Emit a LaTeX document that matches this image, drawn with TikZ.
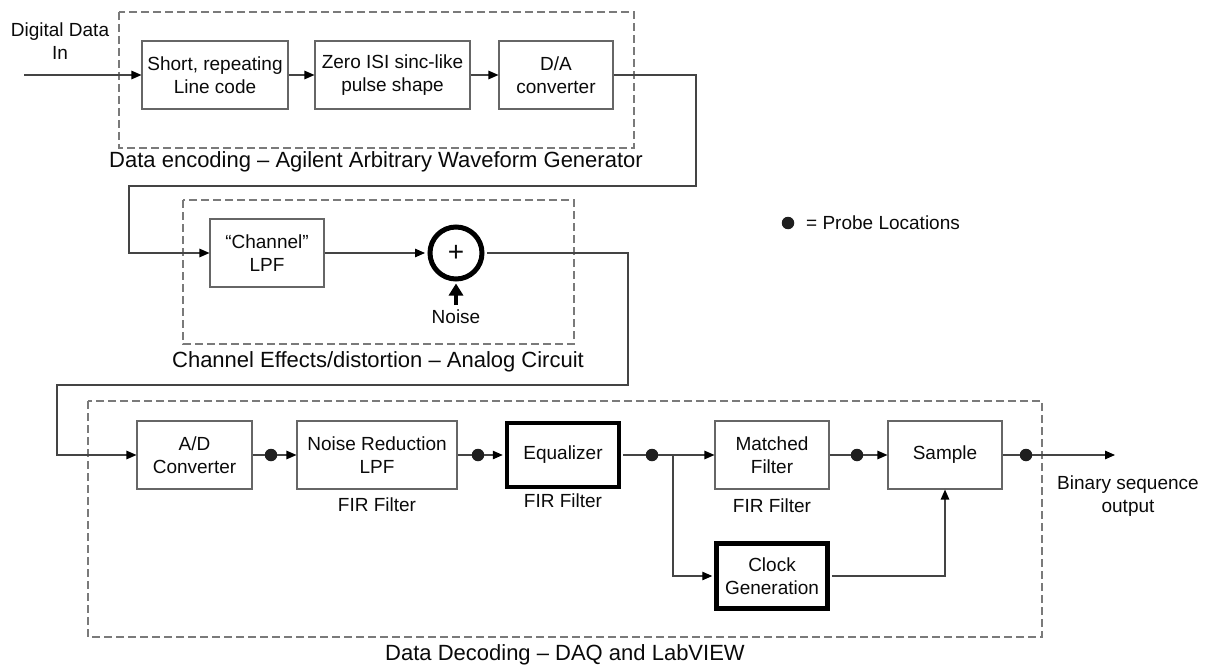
\documentclass[tikz,border=0pt]{standalone}
\usepackage{fontspec}
\setmainfont{Liberation Sans}
\usetikzlibrary{arrows.meta,calc}
\definecolor{linec}{HTML}{444444}
\definecolor{boxc}{HTML}{666666}
\definecolor{dashc}{HTML}{7A7A7A}
\definecolor{txtc}{HTML}{0A0A0A}
\newcommand\boxfont{\fontsize{19}{23}\selectfont}
\newcommand\labfont{\fontsize{22}{26}\selectfont}
\begin{document}
\begin{tikzpicture}[x=1pt,y=-1pt,
  every node/.style={text=txtc},
  blk/.style={draw=boxc, line width=1.1pt, minimum width=#1, minimum height=68pt, inner sep=0pt, align=center, font=\boxfont},
  thickblk/.style={draw=black, line width=4.5pt, minimum width=#1, minimum height=64pt, inner sep=0pt, align=center, font=\boxfont},
  txt/.style={inner sep=0pt, align=center, font=\boxfont},
  lab/.style={inner sep=0pt, align=center, font=\labfont},
  grp/.style={draw=dashc, line width=1.1pt, dash pattern=on 8pt off 4pt},
  ln/.style={draw=linec, line width=1.2pt},
  arr/.style={ln, -{Triangle[length=10pt,width=8.5pt,fill=black,color=black]}},
  probe/.style={circle, fill=black!88, minimum size=12.5pt, inner sep=0pt}]
\useasboundingbox (0,0) rectangle (1207,666);

% group frames
\draw[grp] (119,12) rectangle (634,148);
\draw[grp] (183,200) rectangle (574,344);
\draw[grp] (88,401) rectangle (1042,637);
\node[lab] (labA) at (376,162) {Data encoding – Agilent Arbitrary Waveform Generator};
\node[lab] (labB) at (378,362) {Channel Effects/distortion – Analog Circuit};
\node[lab] (labC) at (565,655) {Data Decoding – DAQ and LabVIEW};

% top row
\node[txt] (din) at (60,41) {Digital Data\\In};
\coordinate (inS) at (24,75);
\node[blk=146pt] (b1) at (215,75) {Short, repeating\\Line code};
\node[blk=155pt] (b2) at (392.5,75) {Zero ISI sinc-like\\pulse shape};
\node[blk=114pt] (b3) at (556,75) {D/A\\converter};
\draw[arr] (inS) -- (b1.west);
\draw[arr] (b1) -- (b2);
\draw[arr] (b2) -- (b3);

% channel
\node[blk=114pt] (lpf) at (267,253) {“Channel”\\LPF};
\node[circle, draw=black, line width=5pt, minimum size=52pt, inner sep=0pt, font=\fontsize{28}{30}\selectfont] (sum) at (456,253) {+};
\node[txt] (noise) at (456,317) {Noise};
\coordinate (nS) at (456,305);
\draw[arr] (b3.east) -- (696,75) -- (696,186) -- (129,186) -- (129,253) -- (lpf.west);
\draw[arr, shorten >=2.5pt] (lpf) -- (sum);
\draw[draw=black, line width=4pt, -{Triangle[length=12pt,width=14pt]}, shorten >=2pt] (nS) -- (sum.south);

% legend
\node[probe] (leg) at (788,223) {};
\node[txt, anchor=west] (legt) at (806,223) {= Probe Locations};

% decoding row
\node[blk=115pt] (ad) at (194.5,455) {A/D\\Converter};
\node[blk=160pt] (nr) at (377,455) {Noise Reduction\\LPF};
\node[thickblk=112pt] (eq) at (563,455) {Equalizer};
\node[blk=114pt] (mf) at (772,455) {Matched\\Filter};
\node[blk=114pt] (sa) at (945,455) {Sample};
\node[thickblk=111pt, minimum height=65pt] (cg) at (772,576) {Clock\\Generation};
\node[txt] (fir1) at (377,505) {FIR Filter};
\node[txt] (fir2) at (563,501) {FIR Filter};
\node[txt] (fir3) at (772,506) {FIR Filter};
\node[txt] (bout) at (1128,496) {Binary sequence\\output};

\node[probe] (p1) at (271,455) {};
\node[probe] (p2) at (478,455) {};
\node[probe] (p3) at (652,455) {};
\node[probe] (p4) at (857,455) {};
\node[probe] (p5) at (1026,455) {};
\coordinate (br) at (673,455);
\coordinate (outE) at (1115,455);

\draw[arr, shorten <=2.5pt] (sum.east) -- (628,253) -- (628,385) -- (57,385) -- (57,455) -- (ad.west);
\draw[ln] (ad.east) -- (p1);
\draw[arr] (p1) -- (nr.west);
\draw[ln] (nr.east) -- (p2);
\draw[arr, shorten >=2pt] (p2) -- (eq.west);
\draw[ln, shorten <=2pt] (eq.east) -- (p3);
\draw[ln] (p3) -- (br);
\draw[arr] (br) -- (mf.west);
\draw[arr, shorten >=2pt] (br) |- (cg.west);
\draw[ln] (mf.east) -- (p4);
\draw[arr] (p4) -- (sa.west);
\draw[ln] (sa.east) -- (p5);
\draw[arr] (p5) -- (outE);
\draw[arr, shorten <=2pt] (cg.east) -| (sa.south);
\end{tikzpicture}
\end{document}
